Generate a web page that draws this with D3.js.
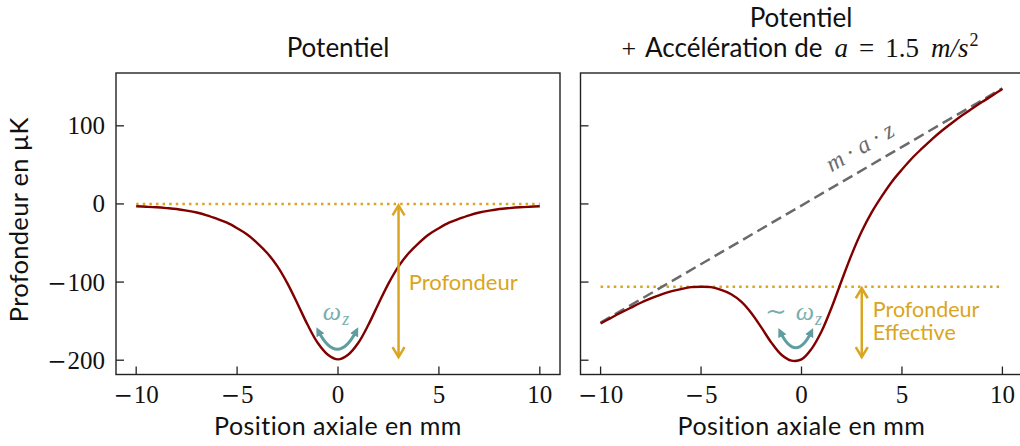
<!DOCTYPE html>
<html>
<head>
<meta charset="utf-8">
<script src="https://cdn.jsdelivr.net/npm/d3@7"></script>
<style>
  html, body { margin: 0; padding: 0; background: #fff; }
  svg { display: block; }
</style>
</head>
<body>
<svg id="chart" width="1020" height="446"></svg>
<script>
// ---------------- DATA ----------------
const positionsMM = [-10, -9.5, -9, -8.5, -8, -7.5, -7, -6.5, -6, -5.5, -5, -4.5, -4, -3.5, -3, -2.5, -2, -1.5, -1, -0.5,
  0, 0.5, 1, 1.5, 2, 2.5, 3, 3.5, 4, 4.5, 5, 5.5, 6, 6.5, 7, 7.5, 8, 8.5, 9, 9.5, 10];
const potentiel = [-3, -3.6, -4.3, -5.3, -6.5, -8.5, -11, -14.5, -19, -24, -31, -39, -50, -63, -80, -102, -128, -155, -178, -193,
  -199, -193, -178, -155, -128, -102, -80, -63, -50, -39, -31, -24, -19, -14.5, -11, -8.5, -6.5, -5.3, -4.3, -3.6, -3];
const potentielAccel = [-153, -146.1, -139.3, -132.8, -126.5, -121, -116, -112, -109, -106.5, -106, -106.5, -110, -115.5, -125, -139.5, -158, -177.5, -193, -200.5,
  -199, -185.5, -163, -132.5, -98, -64.5, -35, -10.5, 10, 28.5, 44, 58.5, 71, 83, 94, 104, 113.5, 122.2, 130.7, 138.9, 147];
const lineZ = [-10, 10];
const lineMAZ = [-152, 148];
const xTicks = [-10, -5, 0, 5, 10];
const yTicks = [-200, -100, 0, 100];
const depthLevel = [0, -106];     // dotted reference levels (left, right)
const depthArrowZ = [3, 3];
const depthArrowBottom = [-196, -196];

// ---------------- LAYOUT ----------------
const svg = d3.select("#chart");
const TOP = 73, BOTTOM = 374.5;
const panels = [
  { x0: 116, x1: 560 },
  { x0: 580.5, x1: 1022.5 }
];
const y = d3.scaleLinear().domain([-218.3, 167.6]).range([BOTTOM, TOP]);

const MAROON = "#800000", GOLD = "#DAA520", TEAL = "#5F9EA0", GREY = "#6a6a6a";
const SANS = "Lato, 'Open Sans', sans-serif";
const SERIF = "'Liberation Serif', 'DejaVu Serif', serif";

const defs = svg.append("defs");
defs.append("marker").attr("id", "tealhead")
  .attr("viewBox", "0 0 10 10").attr("refX", 6).attr("refY", 5)
  .attr("markerWidth", 9).attr("markerHeight", 9)
  .attr("markerUnits", "userSpaceOnUse")
  .attr("orient", "auto-start-reverse")
  .append("path").attr("d", "M0,0 L10,5 L0,10 Z").attr("fill", TEAL);

const smooth = d3.line().curve(d3.curveCatmullRom.alpha(0.5));
const straight = d3.line();

function numLabel(sel, d) {
  if (d < 0) {
    sel.append("tspan").attr("font-family", "'DejaVu Serif', serif").attr("font-size", 23).text("\u2212");
    sel.append("tspan").attr("dx", 1).text(String(Math.abs(d)));
  } else {
    sel.append("tspan").text(String(d));
  }
}

panels.forEach((p, i) => {
  const x = d3.scaleLinear().domain([-11, 11]).range([p.x0, p.x1]);
  p.x = x;
  const g = svg.append("g");

  // frame
  g.append("rect").attr("x", p.x0).attr("y", TOP).attr("width", p.x1 - p.x0).attr("height", BOTTOM - TOP)
    .attr("fill", "none").attr("stroke", "#222").attr("stroke-width", 1.4);

  // ticks (inward)
  g.selectAll(".xt").data(xTicks).enter().append("line")
    .attr("x1", d => x(d)).attr("x2", d => x(d)).attr("y1", BOTTOM).attr("y2", BOTTOM - 8)
    .attr("stroke", "#222").attr("stroke-width", 1.3);
  g.selectAll(".yt").data(yTicks).enter().append("line")
    .attr("x1", p.x0).attr("x2", p.x0 + 8).attr("y1", d => y(d)).attr("y2", d => y(d))
    .attr("stroke", "#222").attr("stroke-width", 1.3);

  // x tick labels
  g.selectAll(".xl").data(xTicks).enter().append("text")
    .attr("x", d => x(d)).attr("y", 403)
    .attr("text-anchor", "middle")
    .attr("font-family", SERIF).attr("font-size", 25).attr("fill", "#111")
    .each(function (d) { numLabel(d3.select(this), d); });

  if (i === 0) {
    g.selectAll(".yl").data(yTicks).enter().append("text")
      .attr("x", p.x0 - 11).attr("y", d => y(d)).attr("dy", "0.34em")
      .attr("text-anchor", "end")
      .attr("font-family", SERIF).attr("font-size", 25).attr("fill", "#111")
      .each(function (d) { numLabel(d3.select(this), d); });
  }

  // x axis label
  g.append("text").attr("x", (p.x0 + p.x1) / 2).attr("y", 435)
    .attr("text-anchor", "middle").attr("font-family", SANS).attr("font-size", 25)
    .attr("letter-spacing", 0.45).attr("fill", "#111")
    .text("Position axiale en mm");

  // dotted depth level
  g.append("path")
    .attr("d", straight(lineZ.map(z => [x(z), y(depthLevel[i])])))
    .attr("fill", "none").attr("stroke", GOLD).attr("stroke-width", 2.5)
    .attr("stroke-dasharray", "2.5,4.1");

  // dashed m.a.z line (right panel)
  if (i === 1) {
    g.append("path")
      .attr("d", straight(lineZ.map((z, k) => [x(z), y(lineMAZ[k])])))
      .attr("fill", "none").attr("stroke", GREY).attr("stroke-width", 2.5)
      .attr("stroke-dasharray", "11,5.5");
  }

  // potential curve
  const vals = i === 0 ? potentiel : potentielAccel;
  g.append("path")
    .attr("d", smooth(positionsMM.map((z, k) => [x(z), y(vals[k])])))
    .attr("fill", "none").attr("stroke", MAROON).attr("stroke-width", 2.4)
    .attr("stroke-linejoin", "round");

  // gold depth double arrow
  const ax = x(depthArrowZ[i]);
  const yTopA = y(depthLevel[i]) + 1.5, yBotA = y(depthArrowBottom[i]);
  g.append("line").attr("x1", ax).attr("x2", ax).attr("y1", yTopA).attr("y2", yBotA)
    .attr("stroke", GOLD).attr("stroke-width", 2.5);
  g.append("path").attr("d", `M${ax - 6},${yTopA + 10} L${ax},${yTopA} L${ax + 6},${yTopA + 10}`)
    .attr("fill", "none").attr("stroke", GOLD).attr("stroke-width", 2.5);
  g.append("path").attr("d", `M${ax - 6},${yBotA - 10} L${ax},${yBotA} L${ax + 6},${yBotA - 10}`)
    .attr("fill", "none").attr("stroke", GOLD).attr("stroke-width", 2.5);

  // teal curved arrow
  const arc = i === 0 ? { z0: -0.99, z1: 0.92, v: -162, vc: -210 } : { z0: -1.07, z1: 0.5, v: -163, vc: -205 };
  const cx = (x(arc.z0) + x(arc.z1)) / 2;
  g.append("path")
    .attr("d", `M${x(arc.z0)},${y(arc.v)} Q${cx},${y(arc.vc)} ${x(arc.z1)},${y(arc.v)}`)
    .attr("fill", "none").attr("stroke", TEAL).attr("stroke-width", 3)
    .attr("marker-start", "url(#tealhead)").attr("marker-end", "url(#tealhead)");
});

// ---------------- ANNOTATIONS ----------------
const xl = panels[0].x, xr = panels[1].x;

// omega labels
const om1 = svg.append("text").attr("x", xl(-0.1)).attr("y", 320)
  .attr("text-anchor", "middle").attr("font-family", SERIF).attr("fill", TEAL).attr("fill-opacity", 0.85);
om1.append("tspan").attr("font-style", "italic").attr("font-size", 26).text("ω");
om1.append("tspan").attr("font-style", "italic").attr("font-size", 18).attr("dx", 1).attr("dy", 5).text("z");

const om2 = svg.append("text").attr("x", xr(-0.4)).attr("y", 320)
  .attr("text-anchor", "middle").attr("font-family", SERIF).attr("fill", TEAL).attr("fill-opacity", 0.85);
om2.append("tspan").attr("font-size", 26).text("∼");
om2.append("tspan").attr("font-style", "italic").attr("font-size", 26).attr("dx", 9).text("ω");
om2.append("tspan").attr("font-style", "italic").attr("font-size", 18).attr("dx", 1).attr("dy", 5).text("z");

// Profondeur labels
svg.append("text").attr("x", xl(3.5)).attr("y", y(-100)).attr("dy", "0.36em")
  .attr("font-family", SANS).attr("font-size", 22).attr("fill", GOLD).text("Profondeur");
const pe = svg.append("text").attr("font-family", SANS).attr("font-size", 21.5).attr("fill", GOLD);
pe.append("tspan").attr("x", xr(3.55)).attr("y", 316.5).text("Profondeur");
pe.append("tspan").attr("x", xr(3.55)).attr("y", 339.5).text("Effective");

// m·a·z label along the dashed line
const angle = Math.atan2(y(lineMAZ[1]) - y(lineMAZ[0]), xr(lineZ[1]) - xr(lineZ[0])) * 180 / Math.PI;
const maz = svg.append("text")
  .attr("transform", `translate(${xr(3.1)},${y(72) + 6}) rotate(${angle})`)
  .attr("text-anchor", "middle").attr("font-family", SERIF)
  .attr("font-size", 24).attr("fill", GREY);
maz.append("tspan").attr("font-style", "italic").text("m");
maz.append("tspan").attr("dx", 5).text("·");
maz.append("tspan").attr("dx", 5).attr("font-style", "italic").text("a");
maz.append("tspan").attr("dx", 5).text("·");
maz.append("tspan").attr("dx", 5).attr("font-style", "italic").text("z");

// titles
svg.append("text").attr("x", (panels[0].x0 + panels[0].x1) / 2).attr("y", 57)
  .attr("text-anchor", "middle").attr("font-family", SANS).attr("font-size", 26).attr("fill", "#111")
  .text("Potentiel");
svg.append("text").attr("x", 801).attr("y", 27)
  .attr("text-anchor", "middle").attr("font-family", SANS).attr("font-size", 26).attr("fill", "#111")
  .text("Potentiel");

// second title line, piece by piece
const t2 = svg.append("text").attr("x", 600).attr("y", 57)
  .attr("font-family", SANS).attr("font-size", 26).attr("fill", "#111");
t2.append("tspan").attr("font-family", SERIF).text("+");
t2.append("tspan").attr("dx", 9).text("Accélération de");
t2.append("tspan").attr("dx", 12).attr("font-family", SERIF).attr("font-style", "italic").attr("font-size", 27).text("a");
t2.append("tspan").attr("dx", 11).attr("font-family", SERIF).attr("font-size", 27).text("=");
t2.append("tspan").attr("dx", 11).attr("font-family", SERIF).attr("font-size", 27).text("1.5");
t2.append("tspan").attr("dx", 12).attr("font-family", SERIF).attr("font-style", "italic").attr("font-size", 27).text("m/s");
t2.append("tspan").attr("dx", 1).attr("dy", -11).attr("font-family", SERIF).attr("font-size", 18).text("2");
const bb = t2.node().getBBox();
t2.attr("x", 600 + (800 - (bb.x + bb.width / 2)));

// y axis label
svg.append("text").attr("transform", `translate(28,${(TOP + BOTTOM) / 2 - 4}) rotate(-90)`)
  .attr("text-anchor", "middle").attr("font-family", SANS).attr("font-size", 25.5)
  .attr("letter-spacing", 0.3).attr("fill", "#111")
  .text("Profondeur en µK");
</script>
</body>
</html>
